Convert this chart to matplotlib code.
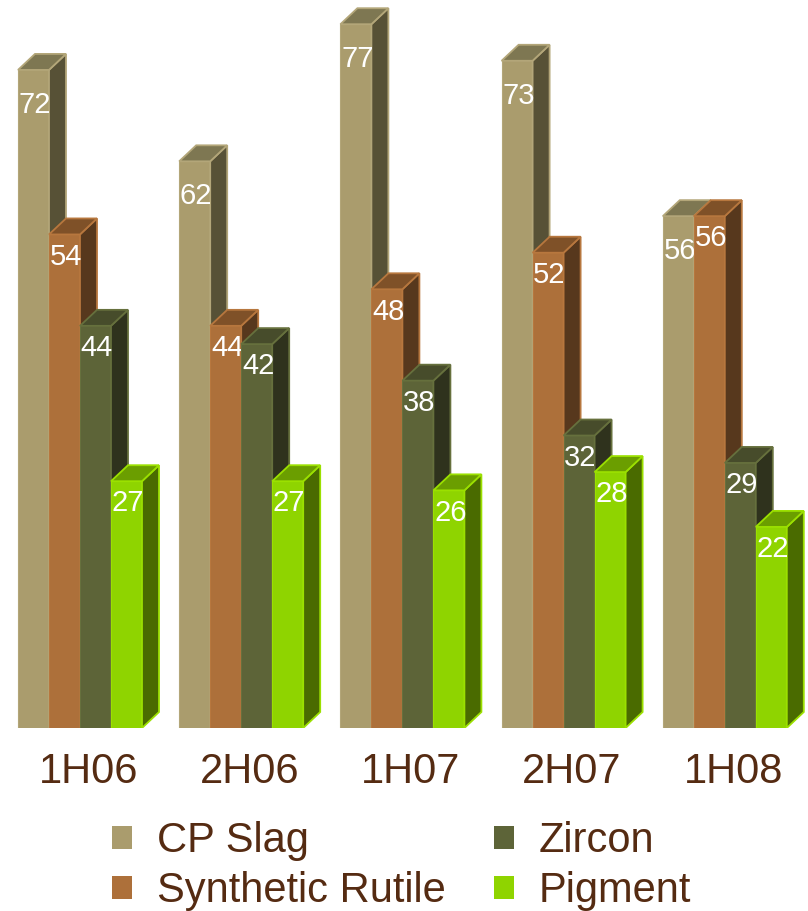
import matplotlib
matplotlib.use("Agg")
import matplotlib.pyplot as plt
from matplotlib.patches import Polygon, Patch

# ---- data ----
periods = ["1H06", "2H06", "1H07", "2H07", "1H08"]
series_names = ["CP Slag", "Synthetic Rutile", "Zircon", "Pigment"]
cp_slag = [72, 62, 77, 73, 56]
synthetic_rutile = [54, 44, 48, 52, 56]
zircon = [44, 42, 38, 32, 29]
pigment = [27, 27, 26, 28, 22]
series_values = [cp_slag, synthetic_rutile, zircon, pigment]

# ---- styles ----
front_colors = ["#AA9C6D", "#AD703A", "#5D6438", "#8FD400"]
side_colors = ["#575136", "#57381D", "#2F321D", "#4A6B00"]
top_colors = ["#7E7752", "#7F5128", "#474C2B", "#6B9E00"]
edge_colors = ["#B3A679", "#B7773E", "#66703D", "#9BE000"]
label_offsets = [-25, -16, -16, -16]   # points below bar top, per series
text_color = "#552B12"
font = ["Liberation Sans", "DejaVu Sans"]
plt.rcParams["font.family"] = font

W, H = 808, 911
fig = plt.figure(figsize=(W / 100, H / 100), dpi=100)
base_px = 728            # baseline from top
px_per_unit = 9.14
ymax = 79.0
ax_h = ymax * px_per_unit
ax = fig.add_axes([0, (H - base_px) / H, 1, ax_h / H])

bar_px = 31.0
pitch = 5.2
left0 = -0.5 - 18 / bar_px
ax.set_xlim(left0, left0 + W / bar_px)
ax.set_ylim(0, ymax)

dx = 17 / bar_px
dy = 16 / px_per_unit

z = 1
for g in range(len(periods)):
    for s in range(len(series_names)):
        c = g * pitch + s
        h = series_values[s][g]
        ax.bar(c, h, width=1.0, color=front_colors[s], linewidth=0, zorder=z)
        side = Polygon([(c + 0.5, 0), (c + 0.5 + dx, dy), (c + 0.5 + dx, h + dy), (c + 0.5, h)],
                       closed=True, facecolor=side_colors[s], edgecolor=edge_colors[s],
                       linewidth=1.3, zorder=z + 0.1)
        top = Polygon([(c - 0.5, h), (c + 0.5, h), (c + 0.5 + dx, h + dy), (c - 0.5 + dx, h + dy)],
                      closed=True, facecolor=top_colors[s], edgecolor=edge_colors[s],
                      linewidth=1.3, zorder=z + 0.2)
        ax.add_patch(side)
        ax.add_patch(top)
        ax.plot([c - 0.5, c - 0.5], [0, h], color=edge_colors[s], lw=0.8, zorder=z + 0.05)
        ax.annotate(str(h), xy=(c, h), xytext=(1, label_offsets[s]), textcoords="offset points",
                    ha="center", va="center", color="white", fontsize=21, zorder=z + 0.3)
        z += 1

centers = [g * pitch - 0.5 + (4 * bar_px + 17) / 2 / bar_px for g in range(len(periods))]
ax.set_xticks(centers)
ax.set_xticklabels(periods, fontsize=30, color=text_color)
ax.tick_params(axis="x", length=0, pad=17)
ax.set_yticks([])
for sp in ax.spines.values():
    sp.set_visible(False)
ax.patch.set_alpha(0)

handles = [Patch(facecolor=front_colors[i], edgecolor="none") for i in range(4)]
leg = fig.legend(handles, series_names,
                 loc="upper left", bbox_to_anchor=(112 / W, 1 - 821 / H), ncol=2,
                 frameon=False, fontsize=30, handlelength=0.48, handleheight=0.48,
                 handletextpad=0.6, columnspacing=1.15, labelspacing=0.24,
                 borderpad=0, borderaxespad=0)
for t in leg.get_texts():
    t.set_color(text_color)

fig.savefig("out.png", dpi=100)
